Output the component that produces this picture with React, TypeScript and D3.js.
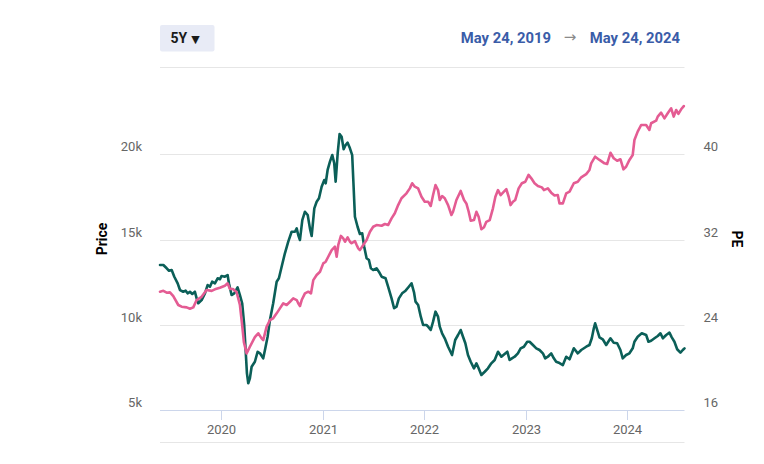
import React from "react";
import * as d3 from "d3";

// [decimal year, price in thousands]
const priceSeries: [number, number][] = [
  [2019.4, 11.94], [2019.433, 11.99], [2019.466, 11.88], [2019.498, 11.9], [2019.531, 11.68],
  [2019.58, 11.16], [2019.613, 11.06], [2019.663, 11.02], [2019.695, 10.94], [2019.728, 11.02],
  [2019.761, 11.45], [2019.81, 11.64], [2019.859, 12.04], [2019.909, 11.99], [2019.941, 12.08],
  [2019.99, 12.17], [2020.039, 12.29], [2020.066, 12.43], [2020.089, 12.1], [2020.118, 12.1],
  [2020.154, 11.92], [2020.187, 11.16], [2020.209, 9.98], [2020.226, 8.98], [2020.253, 8.32],
  [2020.285, 8.71], [2020.334, 9.28], [2020.367, 9.5], [2020.4, 9.2], [2020.416, 9.1],
  [2020.449, 9.88], [2020.482, 10.28], [2020.514, 10.38], [2020.548, 10.67], [2020.58, 10.96],
  [2020.613, 11.26], [2020.646, 11.16], [2020.679, 11.35], [2020.711, 11.55], [2020.745, 11.45],
  [2020.76, 11.26], [2020.777, 11.1], [2020.794, 11.45], [2020.826, 11.84], [2020.859, 11.94],
  [2020.885, 11.84], [2020.908, 12.62], [2020.941, 12.92], [2020.974, 13.11], [2021.006, 13.6],
  [2021.03, 13.7], [2021.055, 13.99], [2021.089, 14.38], [2021.121, 14.58], [2021.138, 13.99],
  [2021.154, 14.68], [2021.18, 15.21], [2021.203, 15.07], [2021.22, 14.87], [2021.246, 15.13],
  [2021.269, 14.87], [2021.285, 14.78], [2021.318, 14.91], [2021.335, 14.68], [2021.351, 14.48],
  [2021.367, 14.38], [2021.4, 14.68], [2021.433, 14.97], [2021.466, 15.46], [2021.498, 15.75],
  [2021.531, 15.85], [2021.581, 15.81], [2021.613, 15.91], [2021.645, 15.85], [2021.679, 16.24],
  [2021.711, 16.54], [2021.744, 17.02], [2021.777, 17.42], [2021.826, 17.71], [2021.859, 18.0],
  [2021.882, 18.3], [2021.908, 18.1], [2021.941, 18.0], [2021.974, 17.51], [2022.006, 17.22],
  [2022.039, 17.22], [2022.065, 16.97], [2022.088, 17.61], [2022.112, 18.2], [2022.137, 17.9],
  [2022.154, 17.32], [2022.177, 17.55], [2022.203, 17.42], [2022.236, 17.02], [2022.269, 16.44],
  [2022.285, 16.63], [2022.318, 17.32], [2022.36, 17.85], [2022.393, 17.32], [2022.416, 17.12],
  [2022.439, 16.63], [2022.459, 16.1], [2022.491, 16.14], [2022.515, 16.63], [2022.537, 16.34],
  [2022.564, 15.6], [2022.59, 15.72], [2022.613, 16.04], [2022.646, 16.14], [2022.678, 16.83],
  [2022.702, 17.51], [2022.728, 17.9], [2022.754, 17.61], [2022.786, 17.81], [2022.81, 17.95],
  [2022.833, 17.51], [2022.852, 17.02], [2022.875, 17.22], [2022.898, 17.32], [2022.931, 18.0],
  [2022.963, 18.3], [2022.997, 18.39], [2023.029, 18.79], [2023.056, 18.59], [2023.088, 18.3],
  [2023.121, 18.14], [2023.16, 18.06], [2023.18, 17.9], [2023.219, 18.0], [2023.252, 17.75],
  [2023.285, 17.58], [2023.317, 17.61], [2023.334, 17.12], [2023.367, 17.12], [2023.4, 17.71],
  [2023.433, 17.81], [2023.475, 18.3], [2023.514, 18.39], [2023.548, 18.65], [2023.597, 18.84],
  [2023.629, 19.08], [2023.646, 19.47], [2023.685, 19.86], [2023.728, 19.67], [2023.777, 19.47],
  [2023.803, 19.43], [2023.836, 20.09], [2023.868, 19.77], [2023.902, 19.62], [2023.934, 19.71],
  [2023.964, 19.12], [2023.99, 19.27], [2024.023, 19.67], [2024.055, 19.96], [2024.072, 20.84],
  [2024.104, 21.33], [2024.138, 21.72], [2024.187, 21.72], [2024.219, 21.43], [2024.236, 21.82],
  [2024.285, 21.97], [2024.301, 22.21], [2024.334, 22.44], [2024.367, 22.11], [2024.399, 22.41],
  [2024.433, 22.7], [2024.458, 22.21], [2024.482, 22.6], [2024.504, 22.37], [2024.531, 22.64],
  [2024.557, 22.83],
];

// [decimal year, PE]
const peSeries: [number, number][] = [
  [2019.4, 29.61], [2019.433, 29.61], [2019.466, 29.3], [2019.489, 29.07], [2019.515, 29.14],
  [2019.541, 28.51], [2019.574, 27.89], [2019.597, 27.26], [2019.629, 27.1], [2019.653, 27.2],
  [2019.672, 26.95], [2019.695, 27.1], [2019.718, 26.89], [2019.744, 27.1], [2019.761, 26.48],
  [2019.777, 26.02], [2019.81, 26.32], [2019.843, 26.95], [2019.869, 27.73], [2019.892, 27.57],
  [2019.914, 28.04], [2019.941, 27.89], [2019.968, 28.36], [2019.99, 28.27], [2020.007, 28.58],
  [2020.039, 28.51], [2020.066, 28.67], [2020.079, 27.89], [2020.105, 26.79], [2020.131, 26.95],
  [2020.164, 27.52], [2020.187, 26.79], [2020.209, 26.02], [2020.229, 23.98], [2020.243, 21.63],
  [2020.256, 19.44], [2020.269, 18.51], [2020.285, 18.98], [2020.302, 20.06], [2020.334, 20.53],
  [2020.361, 21.47], [2020.384, 21.32], [2020.416, 20.85], [2020.433, 21.63], [2020.459, 22.88],
  [2020.482, 24.45], [2020.514, 26.02], [2020.548, 28.04], [2020.57, 28.36], [2020.597, 29.45],
  [2020.629, 30.71], [2020.662, 31.8], [2020.695, 32.73], [2020.728, 32.73], [2020.745, 33.05],
  [2020.76, 32.43], [2020.777, 31.96], [2020.8, 33.83], [2020.826, 34.61], [2020.853, 34.3],
  [2020.875, 33.05], [2020.892, 32.33], [2020.918, 34.93], [2020.941, 35.55], [2020.964, 35.87],
  [2020.99, 36.96], [2021.016, 37.59], [2021.03, 37.28], [2021.049, 38.53], [2021.072, 39.31],
  [2021.095, 39.93], [2021.114, 39.16], [2021.128, 37.43], [2021.148, 40.09], [2021.167, 41.91],
  [2021.187, 41.65], [2021.207, 40.47], [2021.226, 40.87], [2021.246, 41.09], [2021.269, 40.56],
  [2021.291, 39.93], [2021.305, 36.96], [2021.318, 34.14], [2021.344, 33.2], [2021.367, 32.52],
  [2021.39, 32.58], [2021.409, 31.35], [2021.433, 30.24], [2021.456, 30.08], [2021.475, 29.3],
  [2021.498, 29.14], [2021.531, 29.3], [2021.554, 28.98], [2021.581, 28.51], [2021.62, 28.36],
  [2021.645, 27.57], [2021.679, 26.48], [2021.704, 25.55], [2021.728, 25.7], [2021.751, 26.48],
  [2021.783, 26.95], [2021.817, 27.2], [2021.849, 27.57], [2021.876, 27.89], [2021.901, 27.01],
  [2021.915, 26.17], [2021.941, 25.85], [2021.967, 24.76], [2021.99, 23.98], [2022.023, 23.98],
  [2022.039, 23.82], [2022.065, 23.51], [2022.088, 24.29], [2022.112, 25.23], [2022.137, 24.76],
  [2022.154, 23.82], [2022.177, 23.2], [2022.203, 22.73], [2022.236, 21.94], [2022.275, 21.16],
  [2022.306, 22.57], [2022.334, 23.04], [2022.36, 23.51], [2022.383, 22.88], [2022.406, 22.26],
  [2022.432, 21.16], [2022.459, 20.53], [2022.491, 19.91], [2022.515, 20.38], [2022.537, 19.91],
  [2022.564, 19.29], [2022.597, 19.59], [2022.629, 19.91], [2022.662, 20.38], [2022.695, 20.69],
  [2022.728, 21.47], [2022.761, 21.0], [2022.793, 21.26], [2022.82, 21.47], [2022.842, 20.69],
  [2022.865, 20.85], [2022.892, 21.0], [2022.924, 21.32], [2022.951, 21.79], [2022.983, 21.94],
  [2023.016, 22.41], [2023.039, 22.41], [2023.072, 22.1], [2023.105, 21.79], [2023.137, 21.63],
  [2023.17, 21.32], [2023.193, 20.85], [2023.219, 21.0], [2023.252, 21.32], [2023.278, 20.85],
  [2023.301, 20.53], [2023.334, 20.41], [2023.367, 20.22], [2023.4, 21.0], [2023.433, 20.76],
  [2023.475, 21.79], [2023.514, 21.32], [2023.548, 21.63], [2023.597, 21.94], [2023.629, 22.1],
  [2023.652, 22.73], [2023.672, 23.67], [2023.685, 24.14], [2023.705, 23.51], [2023.728, 22.82],
  [2023.76, 22.64], [2023.794, 22.1], [2023.836, 22.73], [2023.868, 22.32], [2023.902, 22.26],
  [2023.934, 21.63], [2023.957, 20.85], [2023.99, 21.16], [2024.023, 21.32], [2024.055, 21.79],
  [2024.072, 22.41], [2024.104, 22.88], [2024.144, 23.2], [2024.187, 23.04], [2024.21, 22.41],
  [2024.236, 22.5], [2024.269, 22.73], [2024.301, 22.95], [2024.328, 23.2], [2024.351, 22.73],
  [2024.384, 23.04], [2024.416, 23.26], [2024.439, 22.82], [2024.465, 22.41], [2024.492, 21.7],
  [2024.524, 21.38], [2024.547, 21.63], [2024.564, 21.79],
];

const priceTicks = [5, 10, 15, 20];
const peTicks = [16, 24, 32, 40];
const yearTicks = [2020, 2021, 2022, 2023, 2024];
const rangeLabel = "5Y";
const startLabel = "May 24, 2019";
const endLabel = "May 24, 2024";

const toDate = (y: number) => {
  const yr = Math.floor(y);
  const a = new Date(yr, 0, 1).getTime();
  const b = new Date(yr + 1, 0, 1).getTime();
  return new Date(a + (y - yr) * (b - a));
};

const FONT = "Roboto, 'Noto Sans', sans-serif";
const SYM = "'DejaVu Sans', sans-serif";
const GREEN = "#0b5f58";
const PINK = "#e45c93";

export default function App() {
  const left = 160, right = 684.5, bottom = 410, top5 = 154.3;
  const x = d3.scaleTime().domain([toDate(2019.4), toDate(2024.564)]).range([left, right]);
  const yPrice = d3.scaleLinear().domain([5, 20]).range([bottom, top5]);
  const yPE = d3.scaleLinear().domain([16, 40]).range([bottom, top5]);

  const pricePath = d3.line<[number, number]>()
    .x((d) => x(toDate(d[0])))
    .y((d) => yPrice(d[1]))(priceSeries) || "";
  const pePath = d3.line<[number, number]>()
    .x((d) => x(toDate(d[0])))
    .y((d) => yPE(d[1]))(peSeries) || "";

  return (
    <svg width={764} height={464} style={{ position: "absolute", left: 0, top: 0, fontFamily: FONT }}>
      <rect width={764} height={464} fill="#fff" />
      {/* header */}
      <rect x={160} y={25} width={54.5} height={26.5} rx={2} fill="#e8ebf6" />
      <text x={170.5} y={42.5} fontSize={14} fontWeight={700} fill="#1a1a1a">{rangeLabel}</text>
      <text x={195.5} y={42.5} fontSize={11} fontFamily={SYM} fill="#1a1a1a" textAnchor="middle">▼</text>
      <text x={551} y={42.5} fontSize={14.8} fontWeight={700} fill="#3a5ca8" textAnchor="end">{startLabel}</text>
      <text x={570} y={42} fontSize={15} fontFamily={SYM} fill="#8a8a8a" textAnchor="middle">→</text>
      <text x={680} y={42.5} fontSize={14.8} fontWeight={700} fill="#3a5ca8" textAnchor="end">{endLabel}</text>

      {/* top frame line */}
      <line x1={left} x2={right} y1={67.5} y2={67.5} stroke="#e6e6e6" />
      {/* gridlines */}
      {priceTicks.map((t) => (
        <line key={t} x1={left} x2={right} y1={Math.round(yPrice(t)) + 0.5} y2={Math.round(yPrice(t)) + 0.5}
          stroke={t === 5 ? "#ccd6eb" : "#e6e6e6"} />
      ))}
      {/* x ticks */}
      {yearTicks.map((yr) => {
        const px = Math.round(x(new Date(yr, 0, 1))) + 0.5;
        return (
          <g key={yr}>
            <line x1={px} x2={px} y1={bottom} y2={bottom + 10} stroke="#ccd6eb" />
            <text x={px} y={433.5} fontSize={13} fill="#666" textAnchor="middle">{yr}</text>
          </g>
        );
      })}
      <line x1={left} x2={right} y1={442.5} y2={442.5} stroke="#e6e6e6" />

      {/* axis labels */}
      {priceTicks.map((t) => (
        <text key={t} x={142} y={yPrice(t) - 3} fontSize={13} fill="#666" textAnchor="end">{t}k</text>
      ))}
      {peTicks.map((t) => (
        <text key={t} x={703.5} y={yPE(t) - 3} fontSize={13} fill="#666" textAnchor="start">{t}</text>
      ))}
      <text transform="translate(106.5,239) rotate(-90)" fontSize={14} fontWeight={700} fill="#000" textAnchor="middle">Price</text>
      <text transform="translate(732,239) rotate(90)" fontSize={14} fontWeight={700} fill="#000" textAnchor="middle">PE</text>

      <path d={pePath} fill="none" stroke={GREEN} strokeWidth={2.6} strokeLinejoin="round" strokeLinecap="round" />
      <path d={pricePath} fill="none" stroke={PINK} strokeWidth={2.6} strokeLinejoin="round" strokeLinecap="round" />
    </svg>
  );
}
